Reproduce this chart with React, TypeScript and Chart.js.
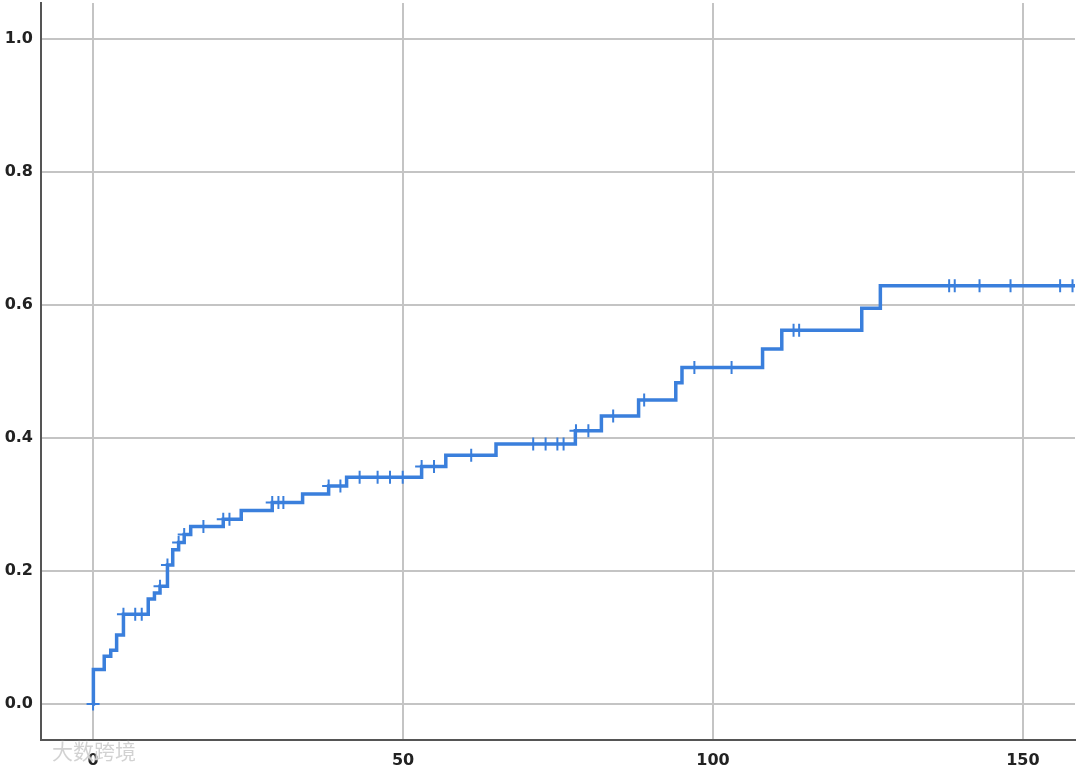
import React, { useEffect, useRef } from "react";
import { Chart, registerables } from "chart.js";

Chart.register(...registerables);

// Step points of the cumulative curve: time and cumulative value from that time on
const stepTimes = [0, 0.05, 1.8, 2.85, 3.8, 4.9, 8.9, 9.9, 10.8, 12.0, 12.85, 13.8, 14.7, 15.75, 21.0, 23.9, 28.9, 33.8, 38.0, 40.9, 53.0, 56.9, 65.0, 77.8, 82.0, 88.0, 94.0, 95.0, 108.0, 111.1, 124.0, 127.0, 162.0];
const stepValues = [0, 0.052, 0.072, 0.081, 0.104, 0.135, 0.158, 0.167, 0.177, 0.209, 0.232, 0.243, 0.255, 0.267, 0.278, 0.291, 0.303, 0.316, 0.328, 0.341, 0.357, 0.374, 0.391, 0.411, 0.433, 0.457, 0.483, 0.506, 0.534, 0.562, 0.595, 0.629, 0.629];

// Censored observation times
const censorTimes = [0, 4.9, 6.8, 7.85, 10.8, 12.0, 13.8, 14.7, 17.8, 21.0, 22.0, 28.9, 29.9, 30.7, 38.0, 39.9, 43.0, 45.9, 47.9, 49.95, 53.0, 55.0, 61.0, 71.0, 73.0, 74.9, 75.9, 77.9, 79.9, 83.9, 88.9, 97.0, 103.0, 113.0, 113.9, 138.1, 139.0, 143.0, 148.0, 156.0, 158.0];

const xTicks = [0, 50, 100, 150];
const yTicks = [0, 0.2, 0.4, 0.6, 0.8, 1.0];

const LINE_COLOR = "#3a7fdc";

function levelAt(t: number): number {
  let v = 0;
  for (let i = 0; i < stepTimes.length; i++) {
    if (stepTimes[i] <= t) v = stepValues[i];
  }
  return v;
}

export default function App() {
  const ref = useRef<HTMLCanvasElement | null>(null);

  useEffect(() => {
    if (!ref.current) return;
    const tickFont = { family: "DejaVu Sans", size: 16, weight: "bold" as const };
    const chart = new Chart(ref.current, {
      type: "line",
      data: {
        datasets: [
          {
            type: "line",
            data: stepTimes.map((t, i) => ({ x: t, y: stepValues[i] })),
            stepped: "before",
            borderColor: LINE_COLOR,
            borderWidth: 3.5,
            pointRadius: 0,
            fill: false,
          },
          {
            type: "scatter",
            data: censorTimes.map((t) => ({ x: t, y: levelAt(t) })),
            pointStyle: "cross",
            pointRadius: 6.5,
            borderWidth: 2,
            borderColor: LINE_COLOR,
            backgroundColor: LINE_COLOR,
            showLine: false,
          } as any,
        ],
      },
      options: {
        responsive: false,
        animation: false,
        layout: { autoPadding: false, padding: { left: 0, right: 5, top: 3, bottom: 0 } },
        plugins: { legend: { display: false }, tooltip: { enabled: false } },
        scales: {
          x: {
            type: "linear",
            min: -8.4,
            max: 158.4,
            afterBuildTicks: (scale: any) => {
              scale.ticks = xTicks.map((v) => ({ value: v }));
            },
            afterFit: (scale: any) => {
              scale.height = 32;
              scale.paddingLeft = 0;
              scale.paddingRight = 0;
            },
            ticks: {
              font: tickFont,
              color: "#222",
              padding: 11,
              maxRotation: 0,
              autoSkip: false,
              callback: (v: any) => String(v),
            },
            grid: { color: "#c4c4c4", lineWidth: 2, drawTicks: false },
            border: { color: "#555", width: 2 },
          },
          y: {
            type: "linear",
            min: -0.054,
            max: 1.054,
            afterBuildTicks: (scale: any) => {
              scale.ticks = yTicks.map((v) => ({ value: v }));
            },
            afterFit: (scale: any) => {
              scale.width = 41;
              scale.paddingTop = 0;
              scale.paddingBottom = 0;
            },
            ticks: {
              font: tickFont,
              color: "#222",
              padding: 8,
              autoSkip: false,
              callback: (v: any) => Number(v).toFixed(1),
            },
            grid: { color: "#c4c4c4", lineWidth: 2, drawTicks: false },
            border: { color: "#555", width: 2 },
          },
        },
      } as any,
    });
    return () => chart.destroy();
  }, []);

  return (
    <div style={{ position: "absolute", left: 0, top: 0, width: 1080, height: 772, background: "#fff" }}>
      <canvas ref={ref} width={1080} height={772} style={{ display: "block" }} />
      <div
        style={{
          position: "absolute",
          left: 52,
          top: 735,
          fontFamily: "'Noto Sans CJK SC'",
          fontSize: 21,
          color: "rgba(205,205,205,0.9)",
          textShadow: "0 0 2px #fff",
          pointerEvents: "none",
        }}
      >
        大数跨境
      </div>
    </div>
  );
}
